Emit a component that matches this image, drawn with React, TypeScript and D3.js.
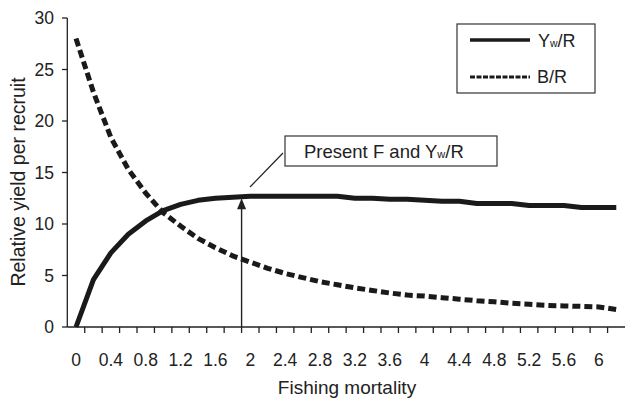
import React from "react";
import * as d3 from "d3";

const fValues = [0, 0.2, 0.4, 0.6, 0.8, 1.0, 1.2, 1.4, 1.6, 1.8, 2.0, 2.2, 2.4, 2.6, 2.8, 3.0, 3.2, 3.4, 3.6, 3.8, 4.0, 4.2, 4.4, 4.6, 4.8, 5.0, 5.2, 5.4, 5.6, 5.8, 6.0, 6.2];
const ywr = [0, 4.6, 7.2, 9.0, 10.3, 11.3, 11.9, 12.3, 12.5, 12.6, 12.7, 12.7, 12.7, 12.7, 12.7, 12.7, 12.5, 12.5, 12.4, 12.4, 12.3, 12.2, 12.2, 12.0, 12.0, 12.0, 11.8, 11.8, 11.8, 11.6, 11.6, 11.6];
const br = [28, 22.8, 18.4, 15.3, 13.0, 11.1, 9.8, 8.6, 7.7, 6.9, 6.3, 5.7, 5.2, 4.8, 4.4, 4.1, 3.8, 3.55, 3.3, 3.1, 3.0, 2.85, 2.7, 2.55, 2.45, 2.3, 2.2, 2.1, 2.05, 2.0, 1.95, 1.7];
const xTickLabels = [0, 0.4, 0.8, 1.2, 1.6, 2, 2.4, 2.8, 3.2, 3.6, 4, 4.4, 4.8, 5.2, 5.6, 6];
const yTicks = [0, 5, 10, 15, 20, 25, 30];
const presentF = 1.9;
const presentY = 12.7;

export default function App() {
  const x = d3.scaleLinear().domain([-0.1, 6.3]).range([67.3, 625]);
  const y = d3.scaleLinear().domain([0, 30]).range([327, 18]);
  const line = d3.line<number>().x((_, i) => x(fValues[i])).y((d) => y(d));
  const minorTicks = d3.range(1, 32).map((k) => -0.1 + 0.2 * k);
  const font = "'Liberation Sans', Arial, sans-serif";
  const ax = x(presentF);
  const ay = y(presentY);
  return (
    <svg width={625} height={403} style={{ position: "fixed", left: 0, top: 0, background: "#fff" }} fontFamily={font}>
      <rect width={625} height={403} fill="#fff" />
      {/* axes */}
      <line x1={67.3} x2={67.3} y1={18} y2={327} stroke="#222" strokeWidth={1.3} />
      <line x1={67.3} x2={625} y1={327} y2={327} stroke="#222" strokeWidth={1.3} />
      {yTicks.map((t) => (
        <g key={t}>
          <line x1={62} x2={67.3} y1={y(t)} y2={y(t)} stroke="#222" strokeWidth={1.3} />
          <text x={54} y={y(t) + 6.3} textAnchor="end" fontSize={17.5} fill="#222">{t}</text>
        </g>
      ))}
      {minorTicks.map((t, i) => (
        <line key={i} x1={x(t)} x2={x(t)} y1={327} y2={333} stroke="#222" strokeWidth={1.3} />
      ))}
      {xTickLabels.map((t) => (
        <text key={t} x={x(t)} y={366} textAnchor="middle" fontSize={17.5} fill="#222">{t}</text>
      ))}
      <text x={347} y={394} textAnchor="middle" fontSize={19} fill="#222">Fishing mortality</text>
      <text transform="translate(25,182) rotate(-90)" textAnchor="middle" fontSize={19.5} fill="#222">Relative yield per recruit</text>
      {/* series */}
      <path d={line(br) || ""} fill="none" stroke="#1a1a1a" strokeWidth={5} strokeDasharray="8 4" />
      <path d={line(ywr) || ""} fill="none" stroke="#1a1a1a" strokeWidth={5} strokeLinejoin="round" />
      {/* arrow annotation */}
      <line x1={ax} x2={ax} y1={327} y2={ay + 8} stroke="#222" strokeWidth={1.4} />
      <path d={`M${ax},${ay + 2} L${ax - 4.5},${ay + 13} L${ax + 4.5},${ay + 13} Z`} fill="#222" />
      <line x1={250} y1={187} x2={283} y2={153} stroke="#222" strokeWidth={1.2} />
      <rect x={285} y={136} width={212} height={30} fill="#fff" stroke="#333" strokeWidth={1.2} />
      <text x={304} y={158} fontSize={18.5} fill="#222">
        Present F and Y<tspan fontSize={11}>w</tspan>/R
      </text>
      {/* legend */}
      <rect x={457} y={24} width={138} height={69} fill="#fff" stroke="#333" strokeWidth={1.2} />
      <line x1={470} x2={530} y1={40} y2={40} stroke="#1a1a1a" strokeWidth={3.5} />
      <line x1={470} x2={530} y1={77} y2={77} stroke="#1a1a1a" strokeWidth={3} strokeDasharray="5 1.5" />
      <text x={538} y={47} fontSize={18} fill="#222">
        Y<tspan fontSize={10.5}>w</tspan>/R
      </text>
      <text x={537} y={83} fontSize={18} fill="#222">B/R</text>
    </svg>
  );
}
